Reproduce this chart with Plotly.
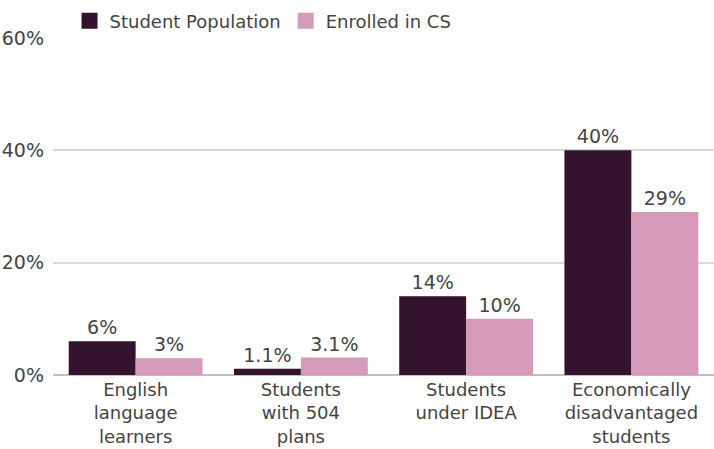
import plotly.graph_objects as go

categories = [
    "English<br>language<br>learners",
    "Students<br>with 504<br>plans",
    "Students<br>under IDEA",
    "Economically<br>disadvantaged<br>students",
]
series_names = ["Student Population", "Enrolled in CS"]
student_population = [6, 1.1, 14, 40]
enrolled_in_cs = [3, 3.1, 10, 29]
population_labels = ["6%", "1.1%", "14%", "40%"]
enrolled_labels = ["3%", "3.1%", "10%", "29%"]
y_ticks = [0, 20, 40, 60]
y_tick_labels = ["0%", "20%", "40%", "60%"]

FONT = "DejaVu Sans"
TEXT = "#444444"
COLORS = ["#33132d", "#d59ab9"]

fig = go.Figure()
for name, values, labels, color in zip(
    series_names,
    [student_population, enrolled_in_cs],
    [population_labels, enrolled_labels],
    COLORS,
):
    fig.add_trace(go.Bar(
        name=name,
        x=categories,
        y=values,
        text=labels,
        textposition="outside",
        textfont=dict(size=19, color=TEXT, family=FONT),
        marker=dict(color=color, line=dict(width=0)),
        cliponaxis=False,
        showlegend=False,
        legendgroup=name,
    ))

# Legend swatches: larger square keys than the default bar icon
for name, color in zip(series_names, COLORS):
    fig.add_trace(go.Scatter(
        name=name,
        x=[None],
        y=[None],
        mode="markers",
        marker=dict(symbol="square", size=17, color=color),
        legendgroup=name,
        showlegend=True,
        hoverinfo="skip",
    ))

fig.update_layout(
    width=714,
    height=449,
    margin=dict(l=53, r=0, t=38, b=74, autoexpand=False),
    paper_bgcolor="white",
    plot_bgcolor="white",
    barmode="group",
    bargap=0.19,
    bargroupgap=0,
    font=dict(family=FONT, color=TEXT, size=18),
    showlegend=True,
    legend=dict(
        orientation="h",
        x=0.025,
        xanchor="left",
        y=1.05,
        yanchor="middle",
        font=dict(size=18, color=TEXT, family=FONT),
        itemsizing="trace",
        traceorder="normal",
        itemwidth=30,
        bgcolor="rgba(0,0,0,0)",
    ),
    xaxis=dict(
        showgrid=False,
        showline=False,
        ticks="",
        automargin=False,
        ticklabelstandoff=2,
        tickfont=dict(size=18, color=TEXT, family=FONT),
    ),
    yaxis=dict(
        range=[0, 60],
        tickvals=y_ticks,
        ticktext=y_tick_labels,
        showgrid=True,
        gridcolor="#d9d9d9",
        gridwidth=1.5,
        zeroline=True,
        zerolinecolor="#bfbfbf",
        zerolinewidth=1.5,
        showline=False,
        ticks="",
        automargin=False,
        ticklabelstandoff=8,
        tickfont=dict(size=19, color=TEXT, family=FONT),
    ),
)

fig.write_html("out.html")
